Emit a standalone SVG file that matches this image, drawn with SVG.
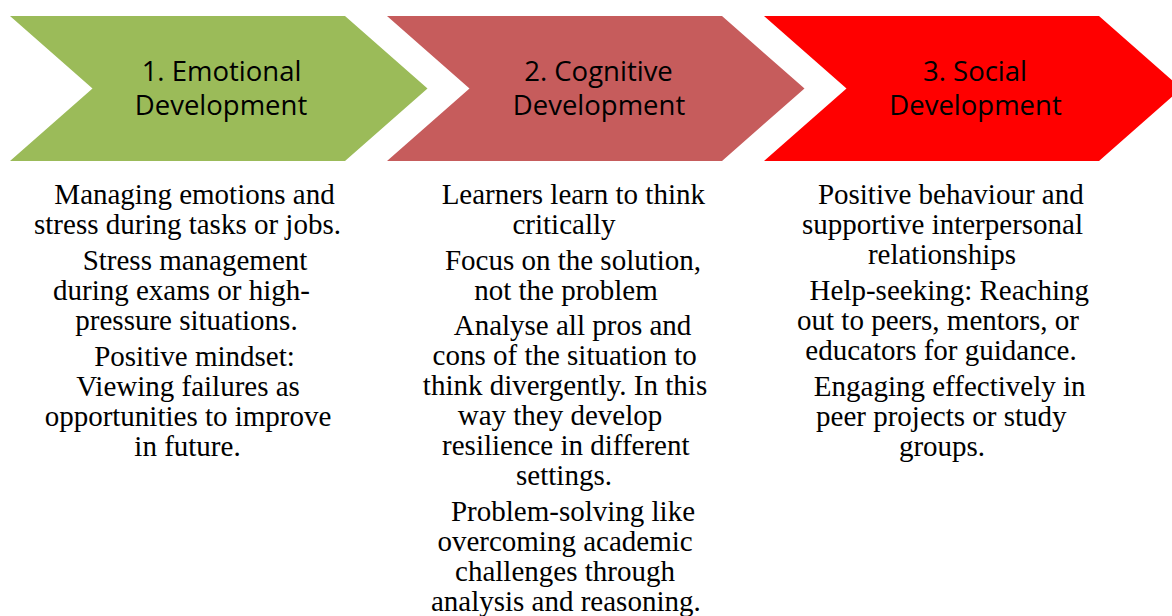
<svg xmlns="http://www.w3.org/2000/svg" width="1172" height="616" viewBox="0 0 1172 616">
<style>
.hd{font-family:"Open Sans","Noto Sans","Liberation Sans",sans-serif;font-size:27.5px;fill:#000;text-anchor:middle}
.bd{font-family:"Liberation Serif","Times New Roman",serif;font-size:29px;fill:#000;text-anchor:middle}
</style>
<rect width="1172" height="616" fill="#fff"/>
<g id="node-emotional">
<polygon points="10,16 345,16 427.5,88.5 345,161 10,161 92.5,88.5" fill="#9BBB59"/>
<text class="hd" x="221.5" y="81">1. Emotional</text>
<text class="hd" x="221" y="115">Development</text>
</g>
<g id="node-cognitive">
<polygon points="387,16 722,16 804.5,88.5 722,161 387,161 469.5,88.5" fill="#C65C5C"/>
<text class="hd" x="598.5" y="81">2. Cognitive</text>
<text class="hd" x="599" y="115">Development</text>
</g>
<g id="node-social">
<polygon points="764,16 1099,16 1181.5,88.5 1099,161 764,161 846.5,88.5" fill="#FF0000"/>
<text class="hd" x="975" y="81">3. Social</text>
<text class="hd" x="975.5" y="115">Development</text>
</g>
<g id="connectors"></g>
<g id="text-emotional" class="bd">
<text class="bd" x="194.5" y="204">Managing emotions and</text>
<text class="bd" x="187.5" y="234">stress during tasks or jobs.</text>
<text class="bd" x="195" y="270">Stress management</text>
<text class="bd" x="181.5" y="300">during exams or high-</text>
<text class="bd" x="186.5" y="330">pressure situations.</text>
<text class="bd" x="194.5" y="366">Positive mindset:</text>
<text class="bd" x="188" y="396">Viewing failures as</text>
<text class="bd" x="188" y="426">opportunities to improve</text>
<text class="bd" x="187.5" y="456">in future.</text>
</g>
<g id="text-cognitive">
<text class="bd" x="573.3" y="204">Learners learn to think</text>
<text class="bd" x="564" y="234">critically</text>
<text class="bd" x="573" y="270">Focus on the solution,</text>
<text class="bd" x="566" y="300">not the problem</text>
<text class="bd" x="572.5" y="335">Analyse all pros and</text>
<text class="bd" x="564.7" y="365">cons of the situation to</text>
<text class="bd" x="565" y="395">think divergently. In this</text>
<text class="bd" x="560" y="425">way they develop</text>
<text class="bd" x="565.8" y="455">resilience in different</text>
<text class="bd" x="564" y="485">settings.</text>
<text class="bd" x="573" y="521">Problem-solving like</text>
<text class="bd" x="565" y="551">overcoming academic</text>
<text class="bd" x="565" y="581">challenges through</text>
<text class="bd" x="565.8" y="611">analysis and reasoning.</text>
</g>
<g id="text-social">
<text class="bd" x="950.8" y="204">Positive behaviour and</text>
<text class="bd" x="942.5" y="234">supportive interpersonal</text>
<text class="bd" x="942" y="264">relationships</text>
<text class="bd" x="949.3" y="300">Help-seeking: Reaching</text>
<text class="bd" x="938" y="330">out to peers, mentors, or</text>
<text class="bd" x="941" y="360">educators for guidance.</text>
<text class="bd" x="949.7" y="396">Engaging effectively in</text>
<text class="bd" x="941.3" y="426">peer projects or study</text>
<text class="bd" x="942" y="456">groups.</text>
</g>
</svg>
